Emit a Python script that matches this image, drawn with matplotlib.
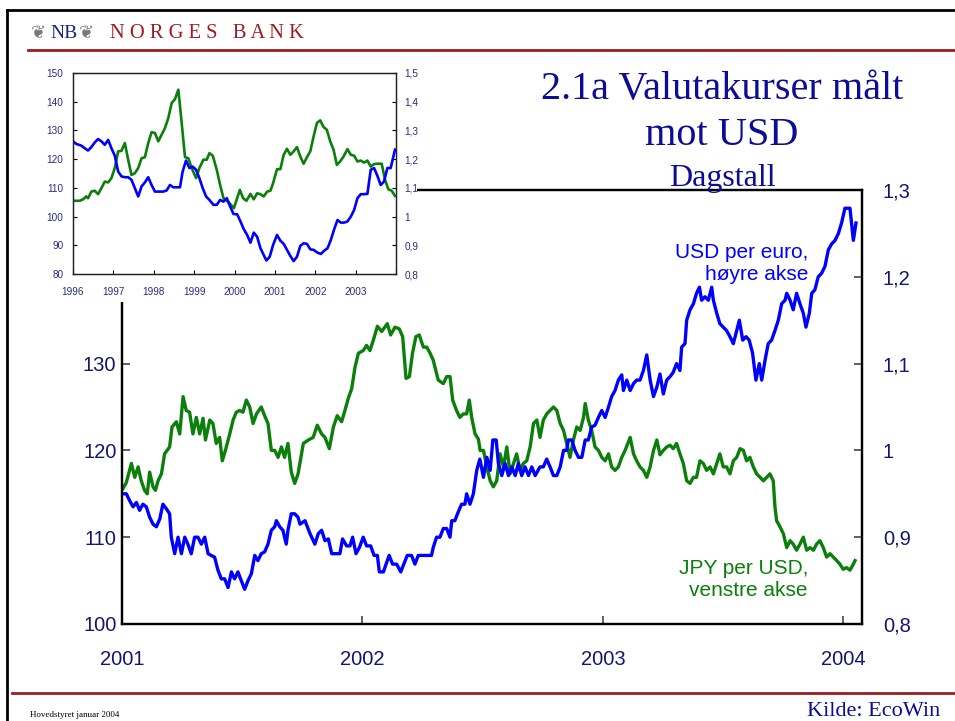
import matplotlib
matplotlib.use("Agg")
import matplotlib.pyplot as plt
from matplotlib.lines import Line2D
from matplotlib.patches import Rectangle
from matplotlib.ticker import FuncFormatter

# ---- main chart: daily figures 2001 - Jan 2004 (decimal years) ----
jpy_t = [2001.004, 2001.018, 2001.039, 2001.053, 2001.067, 2001.080, 2001.094, 2001.105, 2001.115, 2001.129,
         2001.139, 2001.150, 2001.164, 2001.177, 2001.198, 2001.208, 2001.226, 2001.240, 2001.254, 2001.267,
         2001.281, 2001.295, 2001.309, 2001.323, 2001.337, 2001.347, 2001.365, 2001.378, 2001.392, 2001.406,
         2001.417, 2001.430, 2001.448, 2001.462, 2001.475, 2001.489, 2001.503, 2001.517, 2001.531, 2001.545,
         2001.559, 2001.579, 2001.593, 2001.607, 2001.621, 2001.635, 2001.649, 2001.663, 2001.676, 2001.690,
         2001.704, 2001.718, 2001.732, 2001.754, 2001.775, 2001.795, 2001.812, 2001.830, 2001.844, 2001.862,
         2001.879, 2001.895, 2001.913, 2001.927, 2001.941, 2001.955, 2001.969, 2001.983, 2002.003, 2002.017,
         2002.031, 2002.045, 2002.062, 2002.080, 2002.093, 2002.103, 2002.117, 2002.135, 2002.153, 2002.167,
         2002.181, 2002.195, 2002.208, 2002.222, 2002.236, 2002.253, 2002.267, 2002.281, 2002.294, 2002.315,
         2002.336, 2002.350, 2002.364, 2002.375, 2002.391, 2002.405, 2002.419, 2002.433, 2002.444, 2002.454,
         2002.468, 2002.482, 2002.489, 2002.503, 2002.517, 2002.531, 2002.544, 2002.558, 2002.572, 2002.586,
         2002.600, 2002.614, 2002.628, 2002.641, 2002.655, 2002.669, 2002.683, 2002.697, 2002.711, 2002.725,
         2002.738, 2002.752, 2002.766, 2002.780, 2002.794, 2002.808, 2002.822, 2002.836, 2002.849, 2002.863,
         2002.877, 2002.891, 2002.905, 2002.919, 2002.926, 2002.939, 2002.953, 2002.967, 2002.981, 2002.995,
         2003.009, 2003.023, 2003.036, 2003.050, 2003.064, 2003.078, 2003.092, 2003.113, 2003.127, 2003.140,
         2003.154, 2003.168, 2003.182, 2003.196, 2003.210, 2003.224, 2003.237, 2003.251, 2003.265, 2003.279,
         2003.292, 2003.306, 2003.320, 2003.334, 2003.348, 2003.362, 2003.376, 2003.389, 2003.403, 2003.417,
         2003.431, 2003.445, 2003.459, 2003.473, 2003.486, 2003.500, 2003.514, 2003.528, 2003.542, 2003.556,
         2003.570, 2003.584, 2003.597, 2003.611, 2003.625, 2003.639, 2003.653, 2003.667, 2003.681, 2003.694,
         2003.708, 2003.715, 2003.722, 2003.736, 2003.750, 2003.764, 2003.778, 2003.791, 2003.805, 2003.819,
         2003.833, 2003.847, 2003.861, 2003.875, 2003.888, 2003.902, 2003.916, 2003.930, 2003.944, 2003.958,
         2003.972, 2003.985, 2003.999, 2004.013, 2004.027, 2004.041, 2004.048]
jpy = [115.6, 116.3, 118.5, 116.9, 118.1, 116.5, 115.4, 115.0, 117.5, 115.8,
       115.4, 116.5, 117.3, 119.6, 120.4, 122.7, 123.3, 121.9, 126.2, 124.6,
       124.4, 121.9, 123.8, 121.9, 123.7, 121.2, 123.5, 123.1, 120.8, 121.5,
       118.8, 120.0, 121.9, 123.5, 124.4, 124.6, 124.4, 125.8, 125.0, 123.1,
       124.2, 125.0, 124.0, 123.1, 120.0, 120.0, 119.2, 120.4, 119.2, 120.8,
       117.5, 116.2, 117.3, 120.8, 121.2, 121.5, 122.9, 121.9, 121.5, 120.2,
       122.7, 124.0, 123.3, 124.6, 126.0, 127.1, 129.6, 131.2, 131.5, 132.1,
       131.5, 132.7, 134.3, 133.7, 134.2, 134.6, 133.3, 134.2, 134.0, 133.1,
       128.3, 128.5, 131.2, 133.1, 133.3, 131.9, 131.9, 131.2, 130.4, 128.1,
       127.7, 128.5, 128.5, 125.8, 124.6, 123.8, 124.2, 124.2, 125.8, 123.8,
       121.9, 121.3, 120.0, 120.0, 118.1, 116.5, 115.8, 116.5, 119.6, 118.1,
       120.4, 117.3, 118.5, 119.6, 117.7, 118.5, 118.8, 120.4, 123.1, 123.5,
       121.5, 123.5, 124.2, 124.6, 125.0, 124.6, 123.1, 122.3, 120.8, 119.2,
       121.2, 122.7, 122.3, 123.8, 125.4, 123.5, 122.3, 120.4, 120.0, 119.2,
       118.8, 119.6, 118.1, 117.7, 118.1, 119.2, 120.0, 121.5, 119.6, 118.8,
       118.1, 117.7, 116.9, 118.1, 120.0, 121.2, 119.5, 120.0, 120.4, 120.6,
       120.2, 120.8, 119.6, 118.5, 116.5, 116.2, 116.9, 116.9, 118.8, 118.5,
       117.7, 118.1, 117.3, 118.5, 119.6, 118.1, 118.1, 117.3, 118.8, 119.2,
       120.2, 120.0, 118.8, 119.2, 118.1, 117.3, 116.9, 116.5, 116.9, 117.3,
       116.5, 113.5, 111.9, 111.2, 110.4, 108.8, 109.6, 109.2, 108.5, 109.2,
       110.0, 108.5, 108.8, 108.5, 109.2, 109.6, 108.8, 107.7, 108.1, 107.7,
       107.3, 106.9, 106.3, 106.5, 106.2, 106.9, 107.3]

eur_t = [2001.004, 2001.018, 2001.032, 2001.046, 2001.060, 2001.073, 2001.087, 2001.101, 2001.115, 2001.129,
         2001.143, 2001.157, 2001.170, 2001.184, 2001.198, 2001.205, 2001.219, 2001.233, 2001.247, 2001.261,
         2001.274, 2001.288, 2001.302, 2001.316, 2001.330, 2001.344, 2001.358, 2001.371, 2001.385, 2001.399,
         2001.413, 2001.427, 2001.441, 2001.455, 2001.468, 2001.482, 2001.496, 2001.510, 2001.524, 2001.538,
         2001.552, 2001.565, 2001.579, 2001.593, 2001.607, 2001.621, 2001.635, 2001.642, 2001.656, 2001.669,
         2001.683, 2001.690, 2001.704, 2001.718, 2001.732, 2001.740, 2001.761, 2001.782, 2001.802, 2001.816,
         2001.830, 2001.844, 2001.858, 2001.872, 2001.892, 2001.906, 2001.917, 2001.934, 2001.948, 2001.959,
         2001.973, 2001.987, 2002.003, 2002.017, 2002.034, 2002.048, 2002.062, 2002.070, 2002.087, 2002.098,
         2002.111, 2002.125, 2002.142, 2002.159, 2002.172, 2002.186, 2002.204, 2002.218, 2002.232, 2002.253,
         2002.274, 2002.287, 2002.294, 2002.308, 2002.322, 2002.336, 2002.350, 2002.364, 2002.371, 2002.384,
         2002.398, 2002.412, 2002.426, 2002.433, 2002.447, 2002.461, 2002.475, 2002.488, 2002.503, 2002.517,
         2002.531, 2002.542, 2002.556, 2002.565, 2002.579, 2002.593, 2002.607, 2002.621, 2002.635, 2002.648,
         2002.662, 2002.676, 2002.690, 2002.704, 2002.718, 2002.738, 2002.752, 2002.766, 2002.780, 2002.794,
         2002.808, 2002.822, 2002.836, 2002.849, 2002.856, 2002.870, 2002.884, 2002.898, 2002.912, 2002.926,
         2002.939, 2002.953, 2002.967, 2002.981, 2002.995, 2003.009, 2003.023, 2003.036, 2003.050, 2003.064,
         2003.078, 2003.085, 2003.099, 2003.113, 2003.127, 2003.140, 2003.154, 2003.168, 2003.182, 2003.196,
         2003.210, 2003.224, 2003.237, 2003.251, 2003.265, 2003.279, 2003.292, 2003.306, 2003.320, 2003.327,
         2003.341, 2003.348, 2003.362, 2003.376, 2003.389, 2003.401, 2003.410, 2003.424, 2003.438, 2003.452,
         2003.459, 2003.473, 2003.486, 2003.500, 2003.514, 2003.528, 2003.542, 2003.556, 2003.567, 2003.581,
         2003.595, 2003.608, 2003.622, 2003.636, 2003.650, 2003.660, 2003.674, 2003.687, 2003.701, 2003.715,
         2003.729, 2003.743, 2003.757, 2003.764, 2003.778, 2003.791, 2003.805, 2003.819, 2003.833, 2003.844,
         2003.858, 2003.868, 2003.881, 2003.895, 2003.909, 2003.923, 2003.937, 2003.951, 2003.965, 2003.979,
         2003.992, 2004.006, 2004.027, 2004.041, 2004.052]
eur = [0.950, 0.950, 0.942, 0.935, 0.940, 0.931, 0.938, 0.935, 0.923, 0.915,
       0.912, 0.921, 0.938, 0.933, 0.927, 0.900, 0.881, 0.900, 0.881, 0.900,
       0.892, 0.881, 0.900, 0.900, 0.892, 0.900, 0.881, 0.879, 0.877, 0.862,
       0.852, 0.852, 0.842, 0.860, 0.852, 0.860, 0.850, 0.840, 0.850, 0.858,
       0.879, 0.873, 0.881, 0.883, 0.892, 0.908, 0.912, 0.919, 0.912, 0.908,
       0.892, 0.908, 0.927, 0.927, 0.923, 0.915, 0.919, 0.904, 0.892, 0.904,
       0.908, 0.896, 0.898, 0.881, 0.881, 0.881, 0.898, 0.890, 0.890, 0.900,
       0.881, 0.888, 0.900, 0.890, 0.890, 0.879, 0.879, 0.860, 0.860, 0.869,
       0.879, 0.869, 0.869, 0.860, 0.869, 0.879, 0.879, 0.869, 0.879, 0.879,
       0.879, 0.879, 0.888, 0.900, 0.900, 0.910, 0.910, 0.900, 0.919, 0.919,
       0.929, 0.938, 0.938, 0.950, 0.938, 0.950, 0.977, 0.990, 0.969, 0.992,
       0.977, 1.012, 1.012, 0.985, 0.971, 0.985, 0.971, 0.981, 0.971, 0.985,
       0.971, 0.981, 0.971, 0.981, 0.971, 0.981, 0.981, 0.990, 0.981, 0.971,
       0.971, 0.981, 1.000, 1.000, 1.012, 1.012, 1.000, 0.992, 0.992, 1.012,
       1.012, 1.027, 1.029, 1.038, 1.046, 1.038, 1.050, 1.062, 1.069, 1.081,
       1.087, 1.069, 1.081, 1.069, 1.077, 1.081, 1.081, 1.092, 1.110, 1.081,
       1.062, 1.073, 1.088, 1.065, 1.081, 1.085, 1.090, 1.100, 1.092, 1.119,
       1.123, 1.150, 1.162, 1.169, 1.181, 1.188, 1.173, 1.177, 1.173, 1.188,
       1.173, 1.158, 1.146, 1.142, 1.138, 1.131, 1.123, 1.138, 1.150, 1.127,
       1.131, 1.127, 1.112, 1.081, 1.100, 1.081, 1.104, 1.123, 1.127, 1.138,
       1.150, 1.169, 1.173, 1.181, 1.173, 1.162, 1.181, 1.169, 1.158, 1.142,
       1.158, 1.181, 1.185, 1.200, 1.204, 1.212, 1.231, 1.238, 1.242, 1.250,
       1.262, 1.279, 1.279, 1.242, 1.262]

# ---- inset: monthly figures 1996 - 2003 ----
ins_jpy_t = [1996.000, 1996.166, 1996.248, 1996.331, 1996.373, 1996.455, 1996.538, 1996.621, 1996.704, 1996.787,
             1996.870, 1996.952, 1997.035, 1997.118, 1997.201, 1997.284, 1997.366, 1997.449, 1997.532, 1997.615,
             1997.698, 1997.781, 1997.863, 1997.946, 1998.029, 1998.112, 1998.195, 1998.277, 1998.360, 1998.443,
             1998.526, 1998.609, 1998.692, 1998.774, 1998.857, 1998.940, 1999.048, 1999.130, 1999.230, 1999.313,
             1999.379, 1999.462, 1999.561, 1999.644, 1999.727, 1999.810, 1999.876, 1999.984, 2000.066, 2000.132,
             2000.214, 2000.296, 2000.395, 2000.477, 2000.560, 2000.642, 2000.724, 2000.807, 2000.889, 2000.955,
             2001.053, 2001.136, 2001.218, 2001.300, 2001.383, 2001.465, 2001.547, 2001.630, 2001.712, 2001.794,
             2001.877, 2001.959, 2002.041, 2002.123, 2002.206, 2002.288, 2002.370, 2002.453, 2002.535, 2002.617,
             2002.700, 2002.798, 2002.881, 2002.963, 2003.045, 2003.128, 2003.210, 2003.292, 2003.374, 2003.457,
             2003.539, 2003.646, 2003.728, 2003.811, 2003.893, 2003.975]
ins_jpy = [105.5, 105.5, 106.0, 107.0, 106.4, 108.7, 109.0, 107.8, 109.9, 112.2,
           111.9, 113.4, 116.9, 122.7, 122.9, 125.6, 119.8, 114.5, 115.1, 116.9,
           120.3, 120.7, 125.6, 129.4, 129.1, 126.2, 128.5, 130.8, 134.3, 139.5,
           140.9, 144.2, 132.6, 120.7, 120.3, 116.9, 113.4, 116.9, 119.8, 119.8,
           122.1, 121.2, 116.3, 111.0, 106.4, 105.5, 104.7, 102.9, 106.4, 109.3,
           106.4, 105.5, 107.9, 106.0, 108.1, 107.8, 107.0, 108.7, 109.0, 111.6,
           116.5, 116.5, 121.5, 123.6, 121.5, 122.7, 124.2, 120.9, 118.4, 120.7,
           122.7, 127.9, 132.6, 133.5, 131.2, 130.2, 126.2, 123.3, 118.0, 119.2,
           120.9, 123.5, 121.5, 121.2, 119.2, 119.5, 118.8, 119.5, 117.4, 118.3,
           118.4, 118.4, 112.8, 109.5, 109.0, 107.2]

ins_eur_t = [1996.000, 1996.083, 1996.207, 1996.290, 1996.373, 1996.455, 1996.538, 1996.621, 1996.704, 1996.787,
             1996.870, 1996.952, 1997.035, 1997.118, 1997.201, 1997.284, 1997.366, 1997.449, 1997.532, 1997.615,
             1997.698, 1997.781, 1997.863, 1997.946, 1998.029, 1998.112, 1998.236, 1998.319, 1998.402, 1998.484,
             1998.567, 1998.650, 1998.716, 1998.799, 1998.882, 1998.965, 1999.048, 1999.130, 1999.213, 1999.296,
             1999.379, 1999.478, 1999.561, 1999.644, 1999.727, 1999.810, 1999.892, 1999.975, 2000.066, 2000.148,
             2000.230, 2000.313, 2000.395, 2000.477, 2000.560, 2000.642, 2000.724, 2000.790, 2000.872, 2000.955,
             2001.053, 2001.136, 2001.218, 2001.300, 2001.383, 2001.465, 2001.547, 2001.630, 2001.712, 2001.794,
             2001.877, 2001.959, 2002.058, 2002.140, 2002.222, 2002.305, 2002.387, 2002.469, 2002.551, 2002.634,
             2002.716, 2002.798, 2002.881, 2002.963, 2003.045, 2003.128, 2003.210, 2003.292, 2003.374, 2003.457,
             2003.539, 2003.621, 2003.704, 2003.786, 2003.868, 2003.975]
ins_eur = [1.262, 1.253, 1.247, 1.238, 1.230, 1.242, 1.258, 1.270, 1.262, 1.250,
           1.267, 1.238, 1.212, 1.157, 1.140, 1.137, 1.137, 1.128, 1.099, 1.070,
           1.105, 1.119, 1.137, 1.110, 1.087, 1.087, 1.087, 1.091, 1.110, 1.102,
           1.102, 1.102, 1.157, 1.195, 1.169, 1.174, 1.163, 1.134, 1.099, 1.070,
           1.058, 1.041, 1.041, 1.058, 1.052, 1.064, 1.035, 1.009, 1.008, 0.983,
           0.956, 0.936, 0.909, 0.944, 0.930, 0.890, 0.866, 0.847, 0.860, 0.901,
           0.936, 0.916, 0.905, 0.884, 0.863, 0.845, 0.860, 0.898, 0.907, 0.905,
           0.886, 0.884, 0.874, 0.870, 0.881, 0.890, 0.919, 0.956, 0.988, 0.979,
           0.979, 0.983, 1.000, 1.023, 1.064, 1.078, 1.078, 1.079, 1.163, 1.169,
           1.142, 1.110, 1.122, 1.169, 1.169, 1.233]

main_years = [2001, 2002, 2003, 2004]
main_left_ticks = [100, 110, 120, 130, 140, 150]
main_right_ticks = [0.8, 0.9, 1.0, 1.1, 1.2, 1.3]
ins_years = [1996, 1997, 1998, 1999, 2000, 2001, 2002, 2003, 2004]
ins_left_ticks = [80, 90, 100, 110, 120, 130, 140, 150]
ins_right_ticks = [0.8, 0.9, 1.0, 1.1, 1.2, 1.3, 1.4, 1.5]

GREEN = "#0a7f0a"
BLUE = "#0000ff"
NAVY = "#0c0c96"
TICKC = "#16166e"
RED = "#9b1c24"


def comma(v, pos):
    s = f"{v:.1f}"
    if s.endswith(".0"):
        s = s[:-2]
    return s.replace(".", ",")


W, H = 955, 721
fig = plt.figure(figsize=(W / 100, H / 100), dpi=100)
plt.rcParams['font.family'] = ['Liberation Sans', 'DejaVu Sans']


def fx(px):
    return px / W


def fy(py):
    return 1 - py / H


# main chart
ax = fig.add_axes([fx(122), fy(624), fx(862) - fx(122), fy(190) - fy(624)])
ax.plot(jpy_t, jpy, color=GREEN, lw=2.4)
ax.set_xlim(2001, 2004.077)
ax.set_ylim(100, 150)
ax.set_xticks(main_years)
ax.set_xticklabels([str(y) for y in main_years])
ax.set_yticks(main_left_ticks)
ax.tick_params(axis='both', direction='in', length=6, width=1.2, color='#444444',
               labelsize=14.5, labelcolor=TICKC)
ax.tick_params(axis='x', pad=19)
ax.tick_params(axis='y', pad=4)

ax2 = ax.twinx()
ax2.plot(eur_t, eur, color=BLUE, lw=2.4)
ax2.set_ylim(0.8, 1.3)
ax2.set_yticks(main_right_ticks)
ax2.yaxis.set_major_formatter(FuncFormatter(comma))
ax2.tick_params(axis='y', direction='in', length=6, width=1.2, color='#444444',
                labelsize=14.5, labelcolor=TICKC, pad=15)
for a in (ax, ax2):
    for s in a.spines.values():
        s.set_linewidth(1.6)
        s.set_color('black')

ax2.text(0.927, 0.878, "USD per euro,\nhøyre akse", transform=ax.transAxes, ha='right', va='top',
         color=BLUE, fontsize=15, linespacing=1.2)
ax2.text(0.927, 0.150, "JPY per USD,\nvenstre akse", transform=ax.transAxes, ha='right', va='top',
         color=GREEN, fontsize=15, linespacing=1.2)

# white patch behind the inset
fig.add_artist(Rectangle((fx(28), fy(302)), fx(417) - fx(28), fy(58) - fy(302),
                         transform=fig.transFigure, facecolor='white', edgecolor='none', zorder=1))

# inset chart
ins = fig.add_axes([fx(73), fy(274), fx(396) - fx(73), fy(73) - fy(274)])
ins.set_zorder(2)
ins.plot(ins_jpy_t, ins_jpy, color=GREEN, lw=1.9)
ins.set_xlim(1996, 2004)
ins.set_ylim(80, 150)
ins.set_xticks(ins_years)
ins.set_xticklabels([str(y) for y in ins_years[:-1]] + [""])
ins.set_yticks(ins_left_ticks)
ins.tick_params(axis='both', direction='in', length=3, width=0.8, labelsize=7.2, labelcolor='#2a2a8a')
ins.tick_params(axis='x', pad=9)
ins.tick_params(axis='y', pad=7)
ins2 = ins.twinx()
ins2.plot(ins_eur_t, ins_eur, color=BLUE, lw=1.9)
ins2.set_ylim(0.8, 1.5)
ins2.set_yticks(ins_right_ticks)
ins2.yaxis.set_major_formatter(FuncFormatter(comma))
ins2.tick_params(axis='y', direction='in', length=3, width=0.8, labelsize=7.2, labelcolor='#2a2a8a', pad=6)
for a in (ins, ins2):
    for s in a.spines.values():
        s.set_linewidth(0.9)
        s.set_color('#222222')

# titles
serif = ['Liberation Serif', 'DejaVu Serif']
fig.text(fx(722), fy(99), "2.1a Valutakurser målt", ha='center', va='baseline', fontsize=29,
         color=NAVY, family=serif)
fig.text(fx(722), fy(145), "mot USD", ha='center', va='baseline', fontsize=29, color=NAVY, family=serif)
fig.text(fx(722), fy(186), "Dagstall", ha='center', va='baseline', fontsize=23, color=NAVY, family=serif)

# header
fig.text(fx(31), fy(38), "❦", ha='left', va='baseline', fontsize=13, color='#7a7a7a', family=['DejaVu Sans'])
fig.text(fx(50), fy(38), "NB", ha='left', va='baseline', fontsize=14, color='#1a237e', family=serif)
fig.text(fx(79), fy(38), "❦", ha='left', va='baseline', fontsize=13, color='#7a7a7a', family=['DejaVu Sans'])
fig.text(fx(110), fy(38), "N O R G E S   B A N K", ha='left', va='baseline', fontsize=14.8,
         color=RED, family=serif)

fig.add_artist(Line2D([fx(28), 1], [fy(50), fy(50)], transform=fig.transFigure, color=RED, lw=2))
fig.add_artist(Line2D([fx(12), 1], [fy(693), fy(693)], transform=fig.transFigure, color=RED, lw=2))
fig.add_artist(Line2D([fx(7), 1], [fy(10), fy(10)], transform=fig.transFigure, color='black', lw=2))
fig.add_artist(Line2D([fx(7), fx(7)], [fy(10), 0], transform=fig.transFigure, color='black', lw=2))

fig.text(fx(30), fy(717), "Hovedstyret januar 2004", ha='left', va='baseline', fontsize=6.5,
         color='black', family=serif)
fig.text(fx(940), fy(716), "Kilde: EcoWin", ha='right', va='baseline', fontsize=16,
         color=NAVY, family=serif)

fig.savefig("out.png", dpi=100)
